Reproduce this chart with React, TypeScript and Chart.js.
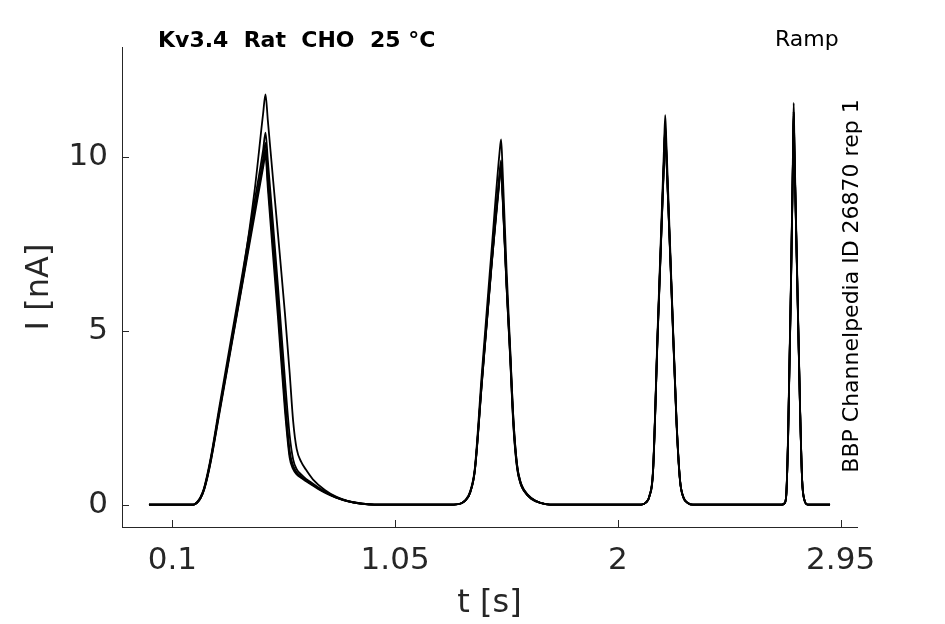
import React, { useEffect, useRef } from 'react';
import { Chart, registerables } from 'chart.js';

Chart.register(...registerables);

// time base shared by all sweeps (s), one row per ramp
const timeS = [
  0.0, 0.15, 0.19, 0.205, 0.22, 0.235, 0.25, 0.265, 0.3, 0.35, 0.4, 0.45, 0.487, 0.497, 0.507,
  0.53, 0.55, 0.58, 0.6, 0.615, 0.63, 0.65, 0.67, 0.7, 0.75, 0.8, 0.85, 0.9, 0.96,
  1.3, 1.33, 1.35, 1.37, 1.39, 1.42, 1.46, 1.495, 1.502, 1.508, 1.525, 1.54, 1.555, 1.57, 1.585,
  1.6, 1.63, 1.67, 1.71,
  2.1, 2.12, 2.135, 2.15, 2.17, 2.197, 2.202, 2.207, 2.23, 2.25, 2.265, 2.28, 2.3, 2.32,
  2.7, 2.71, 2.718, 2.726, 2.738, 2.747, 2.75, 2.753, 2.765, 2.777, 2.786, 2.795, 2.81, 2.905,
];

// current per sweep (nA)
const sweepA = [
  0, 0, 0, 0.06, 0.2, 0.45, 0.85, 1.35, 2.7, 4.6, 6.6, 9.0, 11.25, 11.8, 11.05,
  9.3, 7.8, 5.5, 3.8, 2.4, 1.6, 1.22, 1.0, 0.72, 0.42, 0.22, 0.1, 0.04, 0,
  0, 0.03, 0.13, 0.38, 1.05, 3.8, 7.2, 10.1, 10.5, 9.7, 6.8, 4.6, 2.4, 1.15, 0.65,
  0.42, 0.19, 0.05, 0,
  0, 0.06, 0.26, 1.0, 5.1, 10.3, 11.2, 10.4, 6.1, 2.45, 0.72, 0.21, 0.04, 0,
  0, 0.03, 0.26, 2.0, 6.3, 10.2, 11.55, 10.4, 6.6, 2.85, 0.72, 0.15, 0, 0,
];
const sweepB = [
  0, 0, 0, 0.07, 0.22, 0.48, 0.9, 1.4, 2.8, 4.75, 6.7, 8.7, 10.2, 10.7, 9.9,
  8.0, 6.3, 3.6, 2.0, 1.3, 1.02, 0.86, 0.74, 0.6, 0.38, 0.21, 0.1, 0.04, 0,
  0, 0.03, 0.12, 0.34, 0.97, 3.5, 6.8, 9.4, 9.8, 9.0, 6.4, 4.5, 2.4, 1.15, 0.64,
  0.42, 0.19, 0.05, 0,
  0, 0.06, 0.24, 0.92, 4.9, 9.9, 10.8, 10.0, 6.0, 2.45, 0.72, 0.2, 0.04, 0,
  0, 0.03, 0.24, 1.85, 6.1, 9.9, 11.2, 10.1, 6.5, 2.8, 0.7, 0.15, 0, 0,
];
const sweepC = [
  0, 0, 0, 0.05, 0.18, 0.43, 0.82, 1.3, 2.65, 4.55, 6.45, 8.45, 9.95, 10.4, 9.5,
  7.6, 5.9, 3.1, 1.55, 1.12, 0.93, 0.8, 0.7, 0.57, 0.36, 0.2, 0.09, 0.03, 0,
  0, 0.03, 0.12, 0.35, 1.0, 3.55, 6.8, 9.3, 9.7, 8.9, 6.3, 4.3, 2.2, 1.05, 0.6,
  0.39, 0.17, 0.05, 0,
  0, 0.06, 0.25, 0.95, 4.95, 9.9, 10.8, 10.0, 5.9, 2.35, 0.68, 0.19, 0.04, 0,
  0, 0.03, 0.25, 1.9, 6.2, 10.0, 11.3, 10.2, 6.4, 2.75, 0.68, 0.14, 0, 0,
];
const sweepD = [
  0, 0, 0, 0.06, 0.2, 0.45, 0.85, 1.35, 2.7, 4.6, 6.5, 8.45, 9.8, 10.2, 9.3,
  7.4, 5.7, 2.9, 1.45, 1.07, 0.9, 0.79, 0.69, 0.56, 0.36, 0.2, 0.09, 0.03, 0,
  0, 0.03, 0.12, 0.35, 1.0, 3.6, 6.9, 9.5, 9.9, 9.1, 6.4, 4.4, 2.3, 1.1, 0.62,
  0.4, 0.18, 0.05, 0,
  0, 0.06, 0.25, 0.95, 5.0, 10.0, 10.9, 10.1, 6.0, 2.4, 0.7, 0.2, 0.04, 0,
  0, 0.03, 0.25, 1.9, 6.2, 10.0, 11.3, 10.2, 6.5, 2.8, 0.7, 0.15, 0, 0,
];
const sweepE = [
  0, 0, 0, 0.05, 0.18, 0.42, 0.8, 1.28, 2.6, 4.5, 6.4, 8.3, 9.7, 10.05, 9.1,
  7.1, 5.4, 2.7, 1.35, 1.02, 0.87, 0.76, 0.67, 0.54, 0.34, 0.19, 0.09, 0.03, 0,
  0, 0.03, 0.12, 0.35, 0.98, 3.5, 6.75, 9.35, 9.75, 8.95, 6.3, 4.35, 2.25, 1.08, 0.6,
  0.39, 0.17, 0.05, 0,
  0, 0.06, 0.25, 0.95, 4.95, 9.95, 10.85, 10.05, 5.95, 2.4, 0.7, 0.2, 0.04, 0,
  0, 0.03, 0.25, 1.88, 6.15, 9.95, 11.25, 10.15, 6.45, 2.78, 0.69, 0.15, 0, 0,
];

const sweeps = [sweepA, sweepB, sweepC, sweepD, sweepE];

const xTicks = [0.1, 1.05, 2, 2.95];
const yTicks = [0, 5, 10];

const titleText = 'Kv3.4  Rat  CHO  25 °C';
const protocolText = 'Ramp';
const sourceText = 'BBP Channelpedia ID 26870 rep 1';

const AXIS = '#262626';
const FONT = 'DejaVu Sans';

const decorations = {
  id: 'decorations',
  afterDraw(chart: any) {
    const { ctx, chartArea, scales } = chart;
    ctx.save();
    // inward tick marks, matlab style
    ctx.strokeStyle = AXIS;
    ctx.lineWidth = 1;
    ctx.beginPath();
    xTicks.forEach((v) => {
      const px = Math.round(scales.x.getPixelForValue(v)) + 0.5;
      ctx.moveTo(px, chartArea.bottom);
      ctx.lineTo(px, chartArea.bottom - 7);
    });
    yTicks.forEach((v) => {
      const py = Math.round(scales.y.getPixelForValue(v)) + 0.5;
      ctx.moveTo(chartArea.left, py);
      ctx.lineTo(chartArea.left + 7, py);
    });
    ctx.stroke();

    ctx.fillStyle = '#000';
    ctx.textBaseline = 'alphabetic';
    ctx.textAlign = 'left';
    ctx.font = `bold 22px "${FONT}"`;
    ctx.fillText(titleText, 158, 47);
    ctx.font = `22px "${FONT}"`;
    ctx.fillText(protocolText, 775, 46);

    ctx.translate(858, 286);
    ctx.rotate(-Math.PI / 2);
    ctx.textAlign = 'center';
    ctx.fillText(sourceText, 0, 0);
    ctx.restore();
  },
};

const App = () => {
  const canvasRef = useRef<HTMLCanvasElement | null>(null);

  useEffect(() => {
    if (!canvasRef.current) return;

    const datasets = sweeps.map((s, i) => ({
      label: 'sweep ' + (i + 1),
      data: timeS.map((t, j) => ({ x: t, y: s[j] })),
      borderColor: '#000',
      borderWidth: 1.8,
      pointRadius: 0,
      cubicInterpolationMode: 'monotone' as const,
      fill: false,
    }));

    const chart = new Chart(canvasRef.current, {
      type: 'line',
      data: { datasets },
      plugins: [decorations],
      options: {
        responsive: false,
        animation: false,
        layout: { padding: { top: 47, right: 88, left: 0, bottom: 0 } },
        plugins: {
          legend: { display: false },
          tooltip: { enabled: false },
        },
        scales: {
          x: {
            type: 'linear',
            min: -0.115,
            max: 3.02,
            grid: { display: false, drawTicks: false },
            border: { display: true, color: AXIS, width: 1 },
            afterBuildTicks: (scale: any) => {
              scale.ticks = xTicks.map((v) => ({ value: v }));
            },
            afterFit: (scale: any) => {
              scale.height = 97;
            },
            ticks: {
              autoSkip: false,
              maxRotation: 0,
              padding: 15,
              color: AXIS,
              font: { family: FONT, size: 31 },
              callback: (v: any) => String(v),
            },
            title: {
              display: true,
              text: 't [s]',
              color: AXIS,
              font: { family: FONT, size: 32 },
              padding: { top: 0, bottom: 1 },
            },
          },
          y: {
            type: 'linear',
            min: -0.645,
            max: 13.16,
            grid: { display: false, drawTicks: false },
            border: { display: true, color: AXIS, width: 1 },
            afterBuildTicks: (scale: any) => {
              scale.ticks = yTicks.map((v) => ({ value: v }));
            },
            afterFit: (scale: any) => {
              scale.width = 122;
            },
            ticks: {
              autoSkip: false,
              padding: 14,
              color: AXIS,
              font: { family: FONT, size: 31 },
              callback: (v: any) => String(v),
            },
            title: {
              display: true,
              text: 'I [nA]',
              color: AXIS,
              font: { family: FONT, size: 32 },
              padding: { top: 20, bottom: 0 },
            },
          },
        },
      },
    });

    return () => {
      chart.destroy();
    };
  }, []);

  return (
    <div style={{ position: 'fixed', left: 0, top: 0, width: 945, height: 624, background: '#fff' }}>
      <canvas ref={canvasRef} width={945} height={624} />
    </div>
  );
};

export default App;
